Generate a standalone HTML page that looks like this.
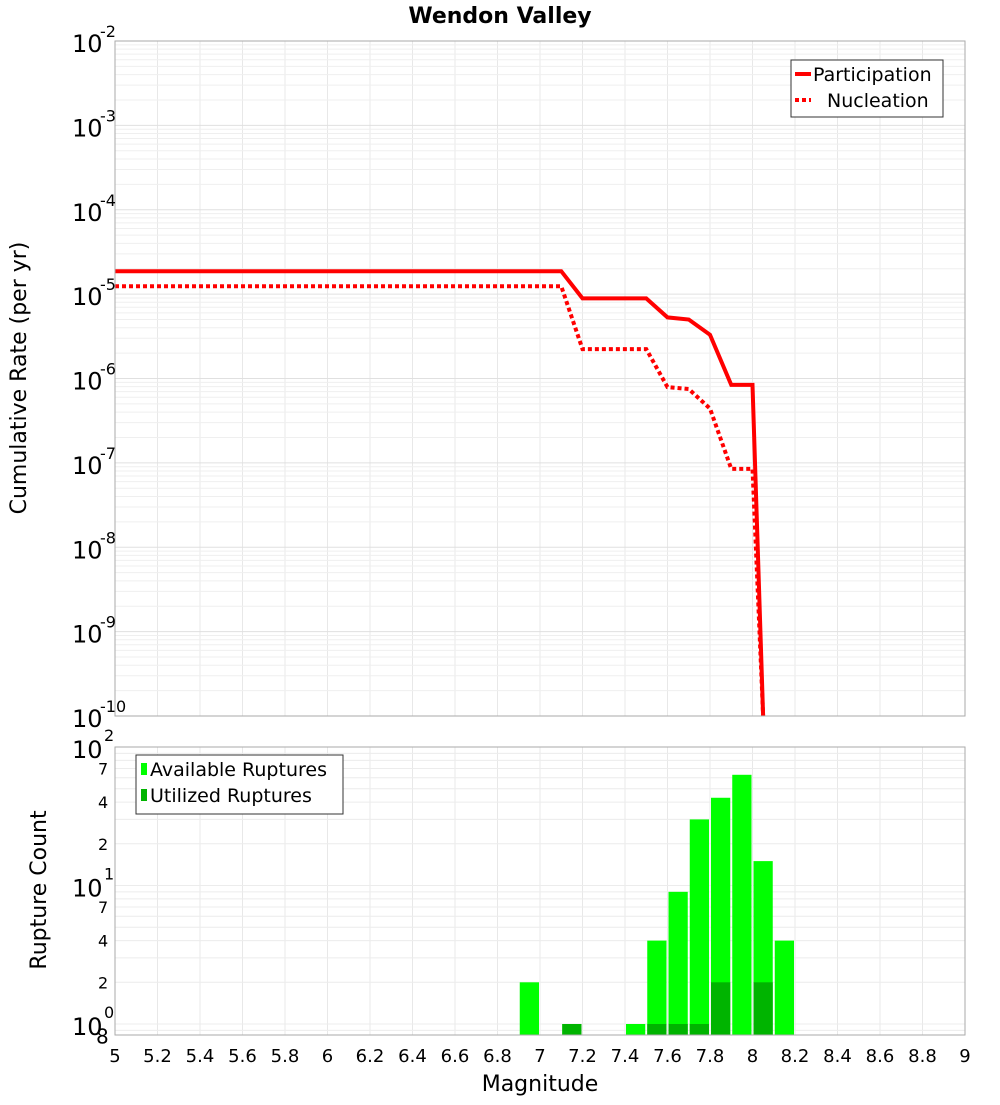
<!DOCTYPE html>
<html><head><meta charset="utf-8"><style>
body{margin:0;background:#fff;font-family:"Liberation Sans","DejaVu Sans",sans-serif}
svg text{font-family:"DejaVu Sans","Liberation Sans",sans-serif}
</style></head><body>
<svg id="c" width="1000" height="1100" xmlns="http://www.w3.org/2000/svg">
<text x="500" y="23" text-anchor="middle" font-size="22" font-weight="bold">Wendon Valley</text>
<text transform="translate(26,378) rotate(-90)" text-anchor="middle" font-size="22">Cumulative Rate (per yr)</text>
<text transform="translate(46,890) rotate(-90)" text-anchor="middle" font-size="22">Rupture Count</text>
<text x="540" y="1091" text-anchor="middle" font-size="22">Magnitude</text>
<g id="grid"></g><g id="marks"></g><g id="axes"></g>
</svg>
<script>
const xTicks=[5,5.2,5.4,5.6,5.8,6,6.2,6.4,6.6,6.8,7,7.2,7.4,7.6,7.8,8,8.2,8.4,8.6,8.8,9];
const partM=[5,7.1,7.2,7.5,7.6,7.7,7.8,7.9,8.0,8.05];
const partV=[1.87e-5,1.87e-5,8.9e-6,8.9e-6,5.3e-6,5.0e-6,3.3e-6,8.4e-7,8.4e-7,1e-10];
const nuclM=[5,7.1,7.2,7.5,7.6,7.7,7.8,7.9,8.0,8.05];
const nuclV=[1.24e-5,1.24e-5,2.23e-6,2.23e-6,7.9e-7,7.5e-7,4.4e-7,8.5e-8,8.5e-8,1e-10];
const binM=[6.95,7.15,7.45,7.55,7.65,7.75,7.85,7.95,8.05,8.15];
const availV=[2,1,1,4,9,30,43,63,15,4];
const utilV=[0,1,0,1,1,1,2,0,2,0];
const topDecades=[-2,-3,-4,-5,-6,-7,-8,-9,-10];
const botDecades=[2,1,0];
const NS='http://www.w3.org/2000/svg';
const L=115,R=965,T1=41,B1=716,T2=747,B2=1035;
const xs=m=>L+(m-5)/4*(R-L);
const y1=v=>T1+(-2-Math.log10(v))/8*(B1-T1);
const D2=138.5, y2=v=>T2+(2-Math.log10(v))*D2;
function mk(tag,attrs,parent,txt){const e=document.createElementNS(NS,tag);for(const k in attrs)e.setAttribute(k,attrs[k]);if(txt!==undefined)e.textContent=txt;document.getElementById(parent).appendChild(e);return e;}
// grids
for(const m of xTicks){
 let g=mk('line',{x1:xs(m),x2:xs(m),y1:T1,y2:B1,stroke:'#e8e8e8'},'grid');
 
 g=mk('line',{x1:xs(m),x2:xs(m),y1:T2,y2:B2,stroke:'#e8e8e8'},'grid');
 
}
for(let d=-10;d<-2;d++)for(let k=1;k<10;k++){const y=y1(k*Math.pow(10,d));
 const g=mk('line',{x1:L,x2:R,y1:y,y2:y,stroke:k==1?'#e0e0e0':'#efefef'},'grid');
 }
for(let d=-1;d<2;d++)for(let k=1;k<10;k++){const v=k*Math.pow(10,d);const y=y2(v);if(y>B2||y<T2)continue;
 const g=mk('line',{x1:L,x2:R,y1:y,y2:y,stroke:'#ececec'},'grid');
 }
// lines
function line(M,V,name,dash){const p=M.map((m,i)=>xs(m)+','+y1(V[i])).join(' ');
 const e=mk('polyline',{points:p,fill:'none',stroke:'#ff0000','stroke-width':4,'stroke-dasharray':dash||'none'},'marks');
 }
mk('clipPath',{id:'cp'},'marks');
line(partM,partV,'participation-line');
line(nuclM,nuclV,'nucleation-line','4,3');
// bars
const bw=(xs(5.1)-xs(5))-2;
binM.forEach((m,i)=>{
 const x=xs(m)-bw/2;
 if(availV[i]>0){const y=y2(availV[i]);const r=mk('rect',{x:x,y:y,width:bw,height:B2-y,fill:'#00ff00'},'marks');
  }
 if(utilV[i]>0){const y=y2(utilV[i]);const r=mk('rect',{x:x,y:y,width:bw,height:B2-y,fill:'#00b400'},'marks');
  }
});
// frames
let f=mk('rect',{x:L,y:T1,width:R-L,height:B1-T1,fill:'none',stroke:'#aaa'},'axes');
f=mk('rect',{x:L,y:T2,width:R-L,height:B2-T2,fill:'none',stroke:'#aaa'},'axes');
// x ticks
for(const m of xTicks){const t=mk('text',{x:xs(m),y:1062,'text-anchor':'middle','font-size':18},'axes',String(m));
 }
// top y ticks
for(const d of topDecades){const y=y1(Math.pow(10,d));
 const t=mk('text',{x:72,y:y+11,'font-size':24},'axes','10');
 const s=mk('text',{x:100,y:y-4,'font-size':16},'axes',String(d));}
// bottom y ticks
for(const d of botDecades){const y=y2(Math.pow(10,d));
 const t=mk('text',{x:72,y:y+11,'font-size':24},'axes','10');
 const s=mk('text',{x:104,y:y-6,'font-size':16},'axes',String(d));}
for(const v of [70,40,20,7,4,2,0.8]){const y=y2(v);
 const lbl=v<1?'8':String(v>=10?v/10:v);
 const t=mk('text',{x:v<1?96:98,y:y+6,'font-size':v<1?20:16},'axes',lbl);}
// legends
function legend(x,y,w,h,items,name){const g=mk('g',{},'axes');
 const r=document.createElementNS(NS,'rect');[['x',x],['y',y],['width',w],['height',h],['fill','#fff'],['stroke','#333']].forEach(a=>r.setAttribute(a[0],a[1]));g.appendChild(r);
 items.forEach((it,i)=>{const cy=y+14+i*26;
  const s=document.createElementNS(NS,it.type);
  if(it.type=='line'){[['x1',x+4],['x2',x+20],['y1',cy],['y2',cy],['stroke','#f00'],['stroke-width',4],['stroke-dasharray',it.dash||'none']].forEach(a=>s.setAttribute(a[0],a[1]));}
  else{[['x',x+5],['y',cy-6],['width',6],['height',12],['fill',it.color]].forEach(a=>s.setAttribute(a[0],a[1]));}
  g.appendChild(s);
  const t=document.createElementNS(NS,'text');t.setAttribute('x',x+it.tx);t.setAttribute('y',cy+7);t.setAttribute('font-size',19);t.textContent=it.label;
  g.appendChild(t);});}
legend(791,60,152,57,[{type:'line',label:'Participation',tx:22},{type:'line',dash:'4,3',label:'Nucleation',tx:36}],'top-legend');
legend(136,755,207,59,[{type:'rect',color:'#00ff00',label:'Available Ruptures',tx:14},{type:'rect',color:'#00b400',label:'Utilized Ruptures',tx:14}],'bottom-legend');
</script>
</body></html>
